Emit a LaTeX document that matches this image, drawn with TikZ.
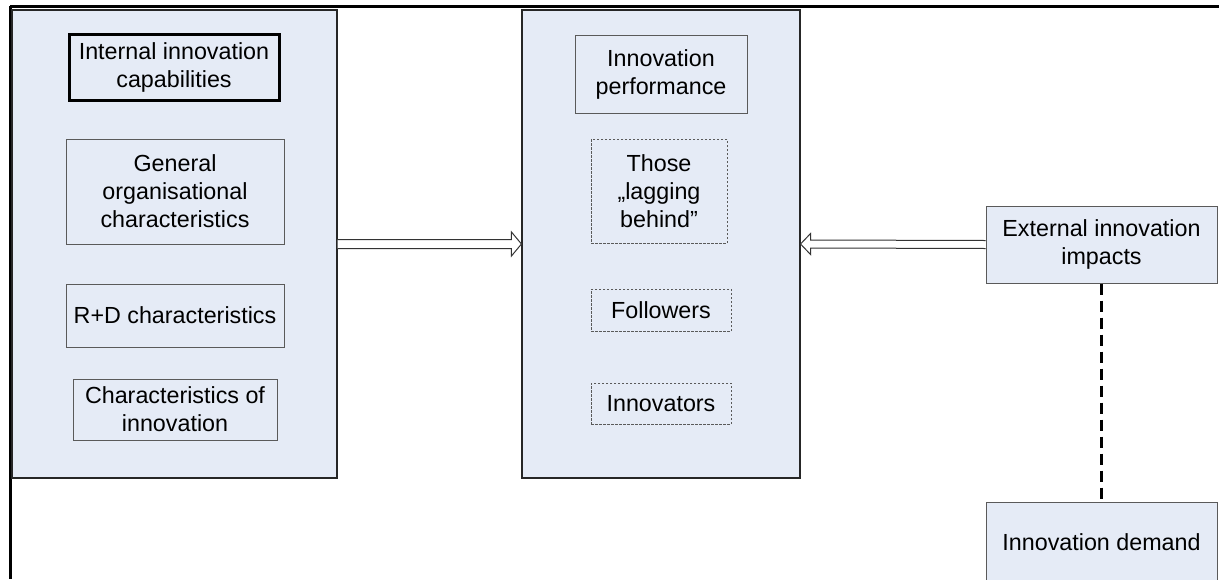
\documentclass[tikz,border=0pt]{standalone}
\usepackage{fontspec}
\setmainfont{Liberation Sans}
\usetikzlibrary{calc,shadows}
\definecolor{boxblue}{RGB}{229,235,246}
\definecolor{edgegray}{RGB}{90,90,90}
\begin{document}
\begin{tikzpicture}[x=1pt,y=-1pt,
  bigbox/.style={draw=black!85,line width=1.1pt,fill=boxblue,inner sep=0pt,
    drop shadow={shadow xshift=0.8pt,shadow yshift=-1.2pt,fill=gray!80,opacity=1}},
  inbox/.style={draw=edgegray,line width=1pt,fill=boxblue,inner sep=2pt,align=center,
    font=\fontsize{23.3}{28}\selectfont},
  thickbox/.style={inbox,draw=black,line width=3pt},
  dashbox/.style={inbox,dash pattern=on 2.5pt off 1.5pt,line width=0.9pt},
  harrow/.style={draw=black!80,line width=1pt,fill=white},
  frame/.style={line width=3pt,black},
  link/.style={line width=2.5pt,dash pattern=on 11pt off 6pt}
]
\useasboundingbox (0,0) rectangle (1219,579);
% outer frame lines
\draw[frame] (10,6) -- (1219,6);
\draw[frame] (10,6) -- (10,579);

% left container
\node[bigbox,minimum width=325pt,minimum height=468pt] (L) at (174.5,244) {};
\node[thickbox,minimum width=210pt,minimum height=66pt] (ic) at (174,67) {Internal innovation\\capabilities};
\node[inbox,minimum width=218pt,minimum height=105pt] (gen) at (175,191.5) {General\\organisational\\characteristics};
\node[inbox,minimum width=218pt,minimum height=63pt] (rd) at (175,315.5) {R+D characteristics};
\node[inbox,minimum width=204pt,minimum height=61pt] (ci) at (175,409.5) {Characteristics of\\innovation};

% middle container
\node[bigbox,minimum width=278pt,minimum height=468pt] (M) at (661,244) {};
\node[inbox,minimum width=172pt,minimum height=78pt] (ip) at (661,74) {Innovation\\performance};
\node[dashbox,minimum width=136pt,minimum height=104pt] (lag) at (659,191) {Those\\„lagging\\behind”};
\node[dashbox,minimum width=140pt,minimum height=42pt] (fol) at (661,310) {Followers};
\node[dashbox,minimum width=140pt,minimum height=41pt] (inv) at (661,403.5) {Innovators};

% right boxes
\node[inbox,minimum width=231pt,minimum height=77pt] (E) at (1101.5,244.5) {External innovation\\impacts};
\node[inbox,minimum width=231pt,minimum height=80pt] (D) at (1101.5,542) {Innovation demand};

% hollow arrow L -> M
\draw[harrow] ($(L.east)+(0,-4.5)$) -- ($(M.west)+(-10,-4.5)$) -- ($(M.west)+(-10,-12)$)
  -- (M.west) -- ($(M.west)+(-10,12)$) -- ($(M.west)+(-10,4.5)$) -- ($(L.east)+(0,4.5)$);
% hollow arrow E -> M
\draw[harrow] ($(E.west)+(0,-4)$) -- ($(M.east)+(10,-4)$) -- ($(M.east)+(10,-10.5)$)
  -- (M.east) -- ($(M.east)+(10,10.5)$) -- ($(M.east)+(10,4)$) -- ($(E.west)+(0,4)$);

% dashed link
\draw[link] (E.south) -- (D.north);
\end{tikzpicture}
\end{document}
